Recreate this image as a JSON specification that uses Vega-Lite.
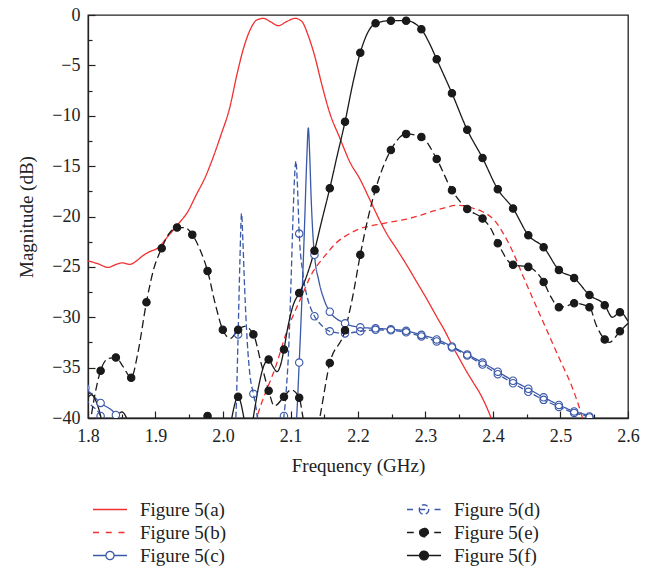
{
  "$schema": "https://vega.github.io/schema/vega-lite/v6.json",
  "width": 540,
  "height": 403,
  "autosize": {"type": "none"},
  "padding": {"left": 88, "top": 15, "right": 33, "bottom": 152},
  "background": "white",
  "config": {
    "view": {"stroke": "#222222", "strokeWidth": 1.3},
    "font": "Liberation Serif",
    "axis": {
      "grid": false,
      "domainColor": "#222222",
      "domainWidth": 1.3,
      "tickColor": "#222222",
      "tickWidth": 1.2,
      "labelFont": "Liberation Serif",
      "labelFontSize": 18,
      "labelColor": "#222222",
      "titleFont": "Liberation Serif",
      "titleFontSize": 19,
      "titleFontWeight": "normal",
      "titleColor": "#222222"
    }
  },
  "datasets": {
    "curves": [
      {"series": "Figure 5(a)", "freq": 1.800, "mag": -24.4},
      {"series": "Figure 5(a)", "freq": 1.815, "mag": -24.7},
      {"series": "Figure 5(a)", "freq": 1.830, "mag": -25.05},
      {"series": "Figure 5(a)", "freq": 1.840, "mag": -24.8},
      {"series": "Figure 5(a)", "freq": 1.850, "mag": -24.6},
      {"series": "Figure 5(a)", "freq": 1.862, "mag": -24.75},
      {"series": "Figure 5(a)", "freq": 1.872, "mag": -24.4},
      {"series": "Figure 5(a)", "freq": 1.880, "mag": -23.95},
      {"series": "Figure 5(a)", "freq": 1.891, "mag": -23.5},
      {"series": "Figure 5(a)", "freq": 1.904, "mag": -23.1},
      {"series": "Figure 5(a)", "freq": 1.918, "mag": -22.0},
      {"series": "Figure 5(a)", "freq": 1.933, "mag": -20.8},
      {"series": "Figure 5(a)", "freq": 1.948, "mag": -19.5},
      {"series": "Figure 5(a)", "freq": 1.960, "mag": -17.9},
      {"series": "Figure 5(a)", "freq": 1.973, "mag": -16.2},
      {"series": "Figure 5(a)", "freq": 1.985, "mag": -14.2},
      {"series": "Figure 5(a)", "freq": 1.997, "mag": -11.9},
      {"series": "Figure 5(a)", "freq": 2.010, "mag": -9.2},
      {"series": "Figure 5(a)", "freq": 2.020, "mag": -6.1},
      {"series": "Figure 5(a)", "freq": 2.030, "mag": -3.4},
      {"series": "Figure 5(a)", "freq": 2.040, "mag": -1.5},
      {"series": "Figure 5(a)", "freq": 2.050, "mag": -0.5},
      {"series": "Figure 5(a)", "freq": 2.060, "mag": -0.33},
      {"series": "Figure 5(a)", "freq": 2.070, "mag": -0.66},
      {"series": "Figure 5(a)", "freq": 2.082, "mag": -1.06},
      {"series": "Figure 5(a)", "freq": 2.094, "mag": -0.66},
      {"series": "Figure 5(a)", "freq": 2.107, "mag": -0.33},
      {"series": "Figure 5(a)", "freq": 2.117, "mag": -0.66},
      {"series": "Figure 5(a)", "freq": 2.126, "mag": -2.0},
      {"series": "Figure 5(a)", "freq": 2.136, "mag": -4.1},
      {"series": "Figure 5(a)", "freq": 2.146, "mag": -6.8},
      {"series": "Figure 5(a)", "freq": 2.158, "mag": -9.7},
      {"series": "Figure 5(a)", "freq": 2.173, "mag": -12.2},
      {"series": "Figure 5(a)", "freq": 2.188, "mag": -14.6},
      {"series": "Figure 5(a)", "freq": 2.203, "mag": -16.3},
      {"series": "Figure 5(a)", "freq": 2.218, "mag": -18.4},
      {"series": "Figure 5(a)", "freq": 2.233, "mag": -20.5},
      {"series": "Figure 5(a)", "freq": 2.2425, "mag": -21.7},
      {"series": "Figure 5(a)", "freq": 2.257, "mag": -23.2},
      {"series": "Figure 5(a)", "freq": 2.272, "mag": -24.8},
      {"series": "Figure 5(a)", "freq": 2.287, "mag": -26.5},
      {"series": "Figure 5(a)", "freq": 2.302, "mag": -28.2},
      {"series": "Figure 5(a)", "freq": 2.317, "mag": -30.0},
      {"series": "Figure 5(a)", "freq": 2.329, "mag": -31.4},
      {"series": "Figure 5(a)", "freq": 2.341, "mag": -33.0},
      {"series": "Figure 5(a)", "freq": 2.351, "mag": -34.2},
      {"series": "Figure 5(a)", "freq": 2.361, "mag": -35.4},
      {"series": "Figure 5(a)", "freq": 2.371, "mag": -36.5},
      {"series": "Figure 5(a)", "freq": 2.381, "mag": -37.6},
      {"series": "Figure 5(a)", "freq": 2.396, "mag": -39.8},
      {"series": "Figure 5(a)", "freq": 2.405, "mag": -41.5},

      {"series": "Figure 5(b)", "freq": 2.040, "mag": -42.5},
      {"series": "Figure 5(b)", "freq": 2.050, "mag": -40.0},
      {"series": "Figure 5(b)", "freq": 2.0795, "mag": -34.6},
      {"series": "Figure 5(b)", "freq": 2.094, "mag": -31.5},
      {"series": "Figure 5(b)", "freq": 2.114, "mag": -28.3},
      {"series": "Figure 5(b)", "freq": 2.134, "mag": -25.4},
      {"series": "Figure 5(b)", "freq": 2.1437, "mag": -24.5},
      {"series": "Figure 5(b)", "freq": 2.156, "mag": -23.5},
      {"series": "Figure 5(b)", "freq": 2.168, "mag": -22.6},
      {"series": "Figure 5(b)", "freq": 2.180, "mag": -22.0},
      {"series": "Figure 5(b)", "freq": 2.193, "mag": -21.5},
      {"series": "Figure 5(b)", "freq": 2.203, "mag": -21.2},
      {"series": "Figure 5(b)", "freq": 2.218, "mag": -20.95},
      {"series": "Figure 5(b)", "freq": 2.233, "mag": -20.75},
      {"series": "Figure 5(b)", "freq": 2.252, "mag": -20.5},
      {"series": "Figure 5(b)", "freq": 2.272, "mag": -20.25},
      {"series": "Figure 5(b)", "freq": 2.292, "mag": -19.9},
      {"series": "Figure 5(b)", "freq": 2.312, "mag": -19.45},
      {"series": "Figure 5(b)", "freq": 2.330, "mag": -19.1},
      {"series": "Figure 5(b)", "freq": 2.346, "mag": -18.9},
      {"series": "Figure 5(b)", "freq": 2.360, "mag": -18.95},
      {"series": "Figure 5(b)", "freq": 2.371, "mag": -19.2},
      {"series": "Figure 5(b)", "freq": 2.384, "mag": -19.5},
      {"series": "Figure 5(b)", "freq": 2.396, "mag": -20.0},
      {"series": "Figure 5(b)", "freq": 2.406, "mag": -20.7},
      {"series": "Figure 5(b)", "freq": 2.415, "mag": -21.65},
      {"series": "Figure 5(b)", "freq": 2.430, "mag": -23.6},
      {"series": "Figure 5(b)", "freq": 2.4425, "mag": -25.6},
      {"series": "Figure 5(b)", "freq": 2.460, "mag": -28.3},
      {"series": "Figure 5(b)", "freq": 2.4795, "mag": -31.25},
      {"series": "Figure 5(b)", "freq": 2.499, "mag": -34.2},
      {"series": "Figure 5(b)", "freq": 2.517, "mag": -36.9},
      {"series": "Figure 5(b)", "freq": 2.529, "mag": -39.2},
      {"series": "Figure 5(b)", "freq": 2.536, "mag": -40.8},

      {"series": "Figure 5(c)", "freq": 1.7961, "mag": -37.0},
      {"series": "Figure 5(c)", "freq": 1.8187, "mag": -38.5},
      {"series": "Figure 5(c)", "freq": 1.8413, "mag": -39.7},
      {"series": "Figure 5(c)", "freq": 1.852, "mag": -41.0},
      {"series": "Figure 5(c)", "freq": 1.870, "mag": -44.0},
      {"series": "Figure 5(c)", "freq": 2.100, "mag": -44.0},
      {"series": "Figure 5(c)", "freq": 2.106, "mag": -42.0},
      {"series": "Figure 5(c)", "freq": 2.109, "mag": -40.0},
      {"series": "Figure 5(c)", "freq": 2.1129, "mag": -34.5},
      {"series": "Figure 5(c)", "freq": 2.117, "mag": -28.0},
      {"series": "Figure 5(c)", "freq": 2.121, "mag": -20.5},
      {"series": "Figure 5(c)", "freq": 2.124, "mag": -14.5},
      {"series": "Figure 5(c)", "freq": 2.1264, "mag": -11.2},
      {"series": "Figure 5(c)", "freq": 2.1285, "mag": -14.0},
      {"series": "Figure 5(c)", "freq": 2.1305, "mag": -18.0},
      {"series": "Figure 5(c)", "freq": 2.133, "mag": -21.6},
      {"series": "Figure 5(c)", "freq": 2.1355, "mag": -23.8},
      {"series": "Figure 5(c)", "freq": 2.142, "mag": -26.4},
      {"series": "Figure 5(c)", "freq": 2.150, "mag": -28.3},
      {"series": "Figure 5(c)", "freq": 2.1582, "mag": -29.45},
      {"series": "Figure 5(c)", "freq": 2.1808, "mag": -30.6},
      {"series": "Figure 5(c)", "freq": 2.2034, "mag": -31.0},
      {"series": "Figure 5(c)", "freq": 2.2260, "mag": -31.1},
      {"series": "Figure 5(c)", "freq": 2.2487, "mag": -31.2},
      {"series": "Figure 5(c)", "freq": 2.2713, "mag": -31.35},
      {"series": "Figure 5(c)", "freq": 2.2939, "mag": -31.75},
      {"series": "Figure 5(c)", "freq": 2.3166, "mag": -32.2},
      {"series": "Figure 5(c)", "freq": 2.3392, "mag": -32.9},
      {"series": "Figure 5(c)", "freq": 2.3618, "mag": -33.7},
      {"series": "Figure 5(c)", "freq": 2.3845, "mag": -34.5},
      {"series": "Figure 5(c)", "freq": 2.4071, "mag": -35.4},
      {"series": "Figure 5(c)", "freq": 2.4297, "mag": -36.3},
      {"series": "Figure 5(c)", "freq": 2.4523, "mag": -37.1},
      {"series": "Figure 5(c)", "freq": 2.4750, "mag": -37.95},
      {"series": "Figure 5(c)", "freq": 2.4976, "mag": -38.7},
      {"series": "Figure 5(c)", "freq": 2.5202, "mag": -39.35},
      {"series": "Figure 5(c)", "freq": 2.5429, "mag": -39.85},
      {"series": "Figure 5(c)", "freq": 2.552, "mag": -40.4},

      {"series": "Figure 5(d)", "freq": 1.7961, "mag": -38.0},
      {"series": "Figure 5(d)", "freq": 1.800, "mag": -38.4},
      {"series": "Figure 5(d)", "freq": 1.8187, "mag": -39.8},
      {"series": "Figure 5(d)", "freq": 1.828, "mag": -41.5},
      {"series": "Figure 5(d)", "freq": 1.840, "mag": -44.0},
      {"series": "Figure 5(d)", "freq": 2.010, "mag": -44.0},
      {"series": "Figure 5(d)", "freq": 2.016, "mag": -42.0},
      {"series": "Figure 5(d)", "freq": 2.019, "mag": -40.0},
      {"series": "Figure 5(d)", "freq": 2.0224, "mag": -31.7},
      {"series": "Figure 5(d)", "freq": 2.025, "mag": -24.5},
      {"series": "Figure 5(d)", "freq": 2.0275, "mag": -19.7},
      {"series": "Figure 5(d)", "freq": 2.0295, "mag": -22.5},
      {"series": "Figure 5(d)", "freq": 2.032, "mag": -27.0},
      {"series": "Figure 5(d)", "freq": 2.036, "mag": -32.5},
      {"series": "Figure 5(d)", "freq": 2.040, "mag": -35.8},
      {"series": "Figure 5(d)", "freq": 2.0450, "mag": -37.6},
      {"series": "Figure 5(d)", "freq": 2.049, "mag": -39.0},
      {"series": "Figure 5(d)", "freq": 2.053, "mag": -41.0},
      {"series": "Figure 5(d)", "freq": 2.060, "mag": -44.0},
      {"series": "Figure 5(d)", "freq": 2.080, "mag": -44.0},
      {"series": "Figure 5(d)", "freq": 2.086, "mag": -41.0},
      {"series": "Figure 5(d)", "freq": 2.0903, "mag": -39.8},
      {"series": "Figure 5(d)", "freq": 2.094, "mag": -37.0},
      {"series": "Figure 5(d)", "freq": 2.097, "mag": -33.6},
      {"series": "Figure 5(d)", "freq": 2.101, "mag": -26.0},
      {"series": "Figure 5(d)", "freq": 2.104, "mag": -19.5},
      {"series": "Figure 5(d)", "freq": 2.1065, "mag": -15.5},
      {"series": "Figure 5(d)", "freq": 2.108, "mag": -14.5},
      {"series": "Figure 5(d)", "freq": 2.110, "mag": -16.5},
      {"series": "Figure 5(d)", "freq": 2.1129, "mag": -21.7},
      {"series": "Figure 5(d)", "freq": 2.118, "mag": -25.5},
      {"series": "Figure 5(d)", "freq": 2.124, "mag": -27.8},
      {"series": "Figure 5(d)", "freq": 2.130, "mag": -29.1},
      {"series": "Figure 5(d)", "freq": 2.1355, "mag": -29.9},
      {"series": "Figure 5(d)", "freq": 2.146, "mag": -30.8},
      {"series": "Figure 5(d)", "freq": 2.1582, "mag": -31.4},
      {"series": "Figure 5(d)", "freq": 2.1808, "mag": -31.6},
      {"series": "Figure 5(d)", "freq": 2.2034, "mag": -31.4},
      {"series": "Figure 5(d)", "freq": 2.2260, "mag": -31.25},
      {"series": "Figure 5(d)", "freq": 2.2487, "mag": -31.3},
      {"series": "Figure 5(d)", "freq": 2.2713, "mag": -31.5},
      {"series": "Figure 5(d)", "freq": 2.2939, "mag": -31.9},
      {"series": "Figure 5(d)", "freq": 2.3166, "mag": -32.4},
      {"series": "Figure 5(d)", "freq": 2.3392, "mag": -33.0},
      {"series": "Figure 5(d)", "freq": 2.3618, "mag": -33.8},
      {"series": "Figure 5(d)", "freq": 2.3845, "mag": -34.7},
      {"series": "Figure 5(d)", "freq": 2.4071, "mag": -35.65},
      {"series": "Figure 5(d)", "freq": 2.4297, "mag": -36.55},
      {"series": "Figure 5(d)", "freq": 2.4523, "mag": -37.4},
      {"series": "Figure 5(d)", "freq": 2.4750, "mag": -38.2},
      {"series": "Figure 5(d)", "freq": 2.4976, "mag": -38.9},
      {"series": "Figure 5(d)", "freq": 2.5202, "mag": -39.5},
      {"series": "Figure 5(d)", "freq": 2.5429, "mag": -39.95},
      {"series": "Figure 5(d)", "freq": 2.550, "mag": -40.4},

      {"series": "Figure 5(e)", "freq": 1.800, "mag": -42.0},
      {"series": "Figure 5(e)", "freq": 1.808, "mag": -38.5},
      {"series": "Figure 5(e)", "freq": 1.8187, "mag": -35.3},
      {"series": "Figure 5(e)", "freq": 1.830, "mag": -34.1},
      {"series": "Figure 5(e)", "freq": 1.8413, "mag": -34.0},
      {"series": "Figure 5(e)", "freq": 1.852, "mag": -34.9},
      {"series": "Figure 5(e)", "freq": 1.8640, "mag": -36.0},
      {"series": "Figure 5(e)", "freq": 1.874, "mag": -33.5},
      {"series": "Figure 5(e)", "freq": 1.8866, "mag": -28.5},
      {"series": "Figure 5(e)", "freq": 1.897, "mag": -25.3},
      {"series": "Figure 5(e)", "freq": 1.9092, "mag": -23.15},
      {"series": "Figure 5(e)", "freq": 1.920, "mag": -21.7},
      {"series": "Figure 5(e)", "freq": 1.9319, "mag": -21.1},
      {"series": "Figure 5(e)", "freq": 1.943, "mag": -21.1},
      {"series": "Figure 5(e)", "freq": 1.9545, "mag": -21.8},
      {"series": "Figure 5(e)", "freq": 1.966, "mag": -23.3},
      {"series": "Figure 5(e)", "freq": 1.9771, "mag": -25.4},
      {"series": "Figure 5(e)", "freq": 1.989, "mag": -28.8},
      {"series": "Figure 5(e)", "freq": 1.9997, "mag": -31.25},
      {"series": "Figure 5(e)", "freq": 2.011, "mag": -32.1},
      {"series": "Figure 5(e)", "freq": 2.0224, "mag": -31.25},
      {"series": "Figure 5(e)", "freq": 2.032, "mag": -30.9},
      {"series": "Figure 5(e)", "freq": 2.0450, "mag": -31.7},
      {"series": "Figure 5(e)", "freq": 2.057, "mag": -34.7},
      {"series": "Figure 5(e)", "freq": 2.0676, "mag": -37.3},
      {"series": "Figure 5(e)", "freq": 2.076, "mag": -38.8},
      {"series": "Figure 5(e)", "freq": 2.0903, "mag": -37.9},
      {"series": "Figure 5(e)", "freq": 2.101, "mag": -37.2},
      {"series": "Figure 5(e)", "freq": 2.1129, "mag": -38.0},
      {"series": "Figure 5(e)", "freq": 2.120, "mag": -40.5},
      {"series": "Figure 5(e)", "freq": 2.130, "mag": -43.0},
      {"series": "Figure 5(e)", "freq": 2.140, "mag": -41.0},
      {"series": "Figure 5(e)", "freq": 2.1582, "mag": -34.55},
      {"series": "Figure 5(e)", "freq": 2.1808, "mag": -31.3},
      {"series": "Figure 5(e)", "freq": 2.192, "mag": -28.0},
      {"series": "Figure 5(e)", "freq": 2.2034, "mag": -23.8},
      {"series": "Figure 5(e)", "freq": 2.2147, "mag": -20.2},
      {"series": "Figure 5(e)", "freq": 2.2260, "mag": -17.3},
      {"series": "Figure 5(e)", "freq": 2.2487, "mag": -13.4},
      {"series": "Figure 5(e)", "freq": 2.2713, "mag": -11.8},
      {"series": "Figure 5(e)", "freq": 2.2939, "mag": -12.1},
      {"series": "Figure 5(e)", "freq": 2.3166, "mag": -14.3},
      {"series": "Figure 5(e)", "freq": 2.3392, "mag": -17.4},
      {"series": "Figure 5(e)", "freq": 2.3618, "mag": -19.25},
      {"series": "Figure 5(e)", "freq": 2.3845, "mag": -20.2},
      {"series": "Figure 5(e)", "freq": 2.396, "mag": -21.1},
      {"series": "Figure 5(e)", "freq": 2.4071, "mag": -22.65},
      {"series": "Figure 5(e)", "freq": 2.4297, "mag": -24.8},
      {"series": "Figure 5(e)", "freq": 2.4523, "mag": -25.0},
      {"series": "Figure 5(e)", "freq": 2.4750, "mag": -26.5},
      {"series": "Figure 5(e)", "freq": 2.486, "mag": -28.0},
      {"series": "Figure 5(e)", "freq": 2.4976, "mag": -29.0},
      {"series": "Figure 5(e)", "freq": 2.509, "mag": -28.9},
      {"series": "Figure 5(e)", "freq": 2.5202, "mag": -28.6},
      {"series": "Figure 5(e)", "freq": 2.5429, "mag": -29.0},
      {"series": "Figure 5(e)", "freq": 2.553, "mag": -30.8},
      {"series": "Figure 5(e)", "freq": 2.5655, "mag": -32.2},
      {"series": "Figure 5(e)", "freq": 2.572, "mag": -32.5},
      {"series": "Figure 5(e)", "freq": 2.5881, "mag": -31.4},
      {"series": "Figure 5(e)", "freq": 2.600, "mag": -30.6},

      {"series": "Figure 5(f)", "freq": 1.796, "mag": -38.6},
      {"series": "Figure 5(f)", "freq": 1.800, "mag": -38.0},
      {"series": "Figure 5(f)", "freq": 1.805, "mag": -37.7},
      {"series": "Figure 5(f)", "freq": 1.811, "mag": -38.2},
      {"series": "Figure 5(f)", "freq": 1.818, "mag": -39.6},
      {"series": "Figure 5(f)", "freq": 1.824, "mag": -41.5},
      {"series": "Figure 5(f)", "freq": 1.835, "mag": -42.0},
      {"series": "Figure 5(f)", "freq": 1.843, "mag": -40.0},
      {"series": "Figure 5(f)", "freq": 1.850, "mag": -39.4},
      {"series": "Figure 5(f)", "freq": 1.857, "mag": -40.0},
      {"series": "Figure 5(f)", "freq": 1.865, "mag": -42.0},
      {"series": "Figure 5(f)", "freq": 1.900, "mag": -45.0},
      {"series": "Figure 5(f)", "freq": 1.960, "mag": -45.0},
      {"series": "Figure 5(f)", "freq": 1.970, "mag": -41.5},
      {"series": "Figure 5(f)", "freq": 1.9771, "mag": -39.8},
      {"series": "Figure 5(f)", "freq": 1.984, "mag": -41.5},
      {"series": "Figure 5(f)", "freq": 2.000, "mag": -45.0},
      {"series": "Figure 5(f)", "freq": 2.008, "mag": -42.0},
      {"series": "Figure 5(f)", "freq": 2.013, "mag": -40.0},
      {"series": "Figure 5(f)", "freq": 2.0224, "mag": -37.9},
      {"series": "Figure 5(f)", "freq": 2.031, "mag": -40.0},
      {"series": "Figure 5(f)", "freq": 2.036, "mag": -42.0},
      {"series": "Figure 5(f)", "freq": 2.041, "mag": -41.5},
      {"series": "Figure 5(f)", "freq": 2.046, "mag": -39.5},
      {"series": "Figure 5(f)", "freq": 2.053, "mag": -36.8},
      {"series": "Figure 5(f)", "freq": 2.060, "mag": -34.9},
      {"series": "Figure 5(f)", "freq": 2.0676, "mag": -34.2},
      {"series": "Figure 5(f)", "freq": 2.074, "mag": -34.9},
      {"series": "Figure 5(f)", "freq": 2.080, "mag": -35.4},
      {"series": "Figure 5(f)", "freq": 2.085, "mag": -34.8},
      {"series": "Figure 5(f)", "freq": 2.0903, "mag": -33.2},
      {"series": "Figure 5(f)", "freq": 2.096, "mag": -31.0},
      {"series": "Figure 5(f)", "freq": 2.104, "mag": -28.8},
      {"series": "Figure 5(f)", "freq": 2.1129, "mag": -27.6},
      {"series": "Figure 5(f)", "freq": 2.120, "mag": -26.6},
      {"series": "Figure 5(f)", "freq": 2.127, "mag": -25.3},
      {"series": "Figure 5(f)", "freq": 2.1355, "mag": -23.4},
      {"series": "Figure 5(f)", "freq": 2.146, "mag": -20.5},
      {"series": "Figure 5(f)", "freq": 2.1582, "mag": -17.2},
      {"series": "Figure 5(f)", "freq": 2.169, "mag": -14.0},
      {"series": "Figure 5(f)", "freq": 2.1808, "mag": -10.6},
      {"series": "Figure 5(f)", "freq": 2.192, "mag": -6.9},
      {"series": "Figure 5(f)", "freq": 2.2034, "mag": -3.74},
      {"series": "Figure 5(f)", "freq": 2.214, "mag": -1.8},
      {"series": "Figure 5(f)", "freq": 2.2260, "mag": -0.83},
      {"series": "Figure 5(f)", "freq": 2.2487, "mag": -0.56},
      {"series": "Figure 5(f)", "freq": 2.2713, "mag": -0.56},
      {"series": "Figure 5(f)", "freq": 2.2939, "mag": -1.42},
      {"series": "Figure 5(f)", "freq": 2.305, "mag": -2.7},
      {"series": "Figure 5(f)", "freq": 2.3166, "mag": -4.4},
      {"series": "Figure 5(f)", "freq": 2.3392, "mag": -7.77},
      {"series": "Figure 5(f)", "freq": 2.3618, "mag": -11.4},
      {"series": "Figure 5(f)", "freq": 2.3845, "mag": -14.2},
      {"series": "Figure 5(f)", "freq": 2.4071, "mag": -17.3},
      {"series": "Figure 5(f)", "freq": 2.4297, "mag": -19.2},
      {"series": "Figure 5(f)", "freq": 2.4523, "mag": -21.85},
      {"series": "Figure 5(f)", "freq": 2.4750, "mag": -23.05},
      {"series": "Figure 5(f)", "freq": 2.4976, "mag": -25.3},
      {"series": "Figure 5(f)", "freq": 2.5202, "mag": -26.1},
      {"series": "Figure 5(f)", "freq": 2.5429, "mag": -27.8},
      {"series": "Figure 5(f)", "freq": 2.5655, "mag": -28.8},
      {"series": "Figure 5(f)", "freq": 2.577, "mag": -30.0},
      {"series": "Figure 5(f)", "freq": 2.5881, "mag": -29.5},
      {"series": "Figure 5(f)", "freq": 2.600, "mag": -30.4}
    ],
    "markers": [
      {"series": "Figure 5(c)", "freq": 1.7961, "mag": -37.0},
      {"series": "Figure 5(c)", "freq": 1.8187, "mag": -38.5},
      {"series": "Figure 5(c)", "freq": 1.8413, "mag": -39.7},
      {"series": "Figure 5(c)", "freq": 2.1129, "mag": -34.5},
      {"series": "Figure 5(c)", "freq": 2.1355, "mag": -23.8},
      {"series": "Figure 5(c)", "freq": 2.1582, "mag": -29.45},
      {"series": "Figure 5(c)", "freq": 2.1808, "mag": -30.6},
      {"series": "Figure 5(c)", "freq": 2.2034, "mag": -31.0},
      {"series": "Figure 5(c)", "freq": 2.2260, "mag": -31.1},
      {"series": "Figure 5(c)", "freq": 2.2487, "mag": -31.2},
      {"series": "Figure 5(c)", "freq": 2.2713, "mag": -31.35},
      {"series": "Figure 5(c)", "freq": 2.2939, "mag": -31.75},
      {"series": "Figure 5(c)", "freq": 2.3166, "mag": -32.2},
      {"series": "Figure 5(c)", "freq": 2.3392, "mag": -32.9},
      {"series": "Figure 5(c)", "freq": 2.3618, "mag": -33.7},
      {"series": "Figure 5(c)", "freq": 2.3845, "mag": -34.5},
      {"series": "Figure 5(c)", "freq": 2.4071, "mag": -35.4},
      {"series": "Figure 5(c)", "freq": 2.4297, "mag": -36.3},
      {"series": "Figure 5(c)", "freq": 2.4523, "mag": -37.1},
      {"series": "Figure 5(c)", "freq": 2.4750, "mag": -37.95},
      {"series": "Figure 5(c)", "freq": 2.4976, "mag": -38.7},
      {"series": "Figure 5(c)", "freq": 2.5202, "mag": -39.35},
      {"series": "Figure 5(c)", "freq": 2.5429, "mag": -39.85},

      {"series": "Figure 5(d)", "freq": 1.8187, "mag": -39.8},
      {"series": "Figure 5(d)", "freq": 2.0224, "mag": -31.7},
      {"series": "Figure 5(d)", "freq": 2.0450, "mag": -37.6},
      {"series": "Figure 5(d)", "freq": 2.0903, "mag": -39.8},
      {"series": "Figure 5(d)", "freq": 2.1129, "mag": -21.7},
      {"series": "Figure 5(d)", "freq": 2.1355, "mag": -29.9},
      {"series": "Figure 5(d)", "freq": 2.1582, "mag": -31.4},
      {"series": "Figure 5(d)", "freq": 2.1808, "mag": -31.6},
      {"series": "Figure 5(d)", "freq": 2.2034, "mag": -31.4},
      {"series": "Figure 5(d)", "freq": 2.2260, "mag": -31.25},
      {"series": "Figure 5(d)", "freq": 2.2487, "mag": -31.3},
      {"series": "Figure 5(d)", "freq": 2.2713, "mag": -31.5},
      {"series": "Figure 5(d)", "freq": 2.2939, "mag": -31.9},
      {"series": "Figure 5(d)", "freq": 2.3166, "mag": -32.4},
      {"series": "Figure 5(d)", "freq": 2.3392, "mag": -33.0},
      {"series": "Figure 5(d)", "freq": 2.3618, "mag": -33.8},
      {"series": "Figure 5(d)", "freq": 2.3845, "mag": -34.7},
      {"series": "Figure 5(d)", "freq": 2.4071, "mag": -35.65},
      {"series": "Figure 5(d)", "freq": 2.4297, "mag": -36.55},
      {"series": "Figure 5(d)", "freq": 2.4523, "mag": -37.4},
      {"series": "Figure 5(d)", "freq": 2.4750, "mag": -38.2},
      {"series": "Figure 5(d)", "freq": 2.4976, "mag": -38.9},
      {"series": "Figure 5(d)", "freq": 2.5202, "mag": -39.5},
      {"series": "Figure 5(d)", "freq": 2.5429, "mag": -39.95},

      {"series": "Figure 5(e)", "freq": 1.8187, "mag": -35.3},
      {"series": "Figure 5(e)", "freq": 1.8413, "mag": -34.0},
      {"series": "Figure 5(e)", "freq": 1.8640, "mag": -36.0},
      {"series": "Figure 5(e)", "freq": 1.8866, "mag": -28.5},
      {"series": "Figure 5(e)", "freq": 1.9092, "mag": -23.15},
      {"series": "Figure 5(e)", "freq": 1.9319, "mag": -21.1},
      {"series": "Figure 5(e)", "freq": 1.9545, "mag": -21.8},
      {"series": "Figure 5(e)", "freq": 1.9771, "mag": -25.4},
      {"series": "Figure 5(e)", "freq": 1.9997, "mag": -31.25},
      {"series": "Figure 5(e)", "freq": 2.0224, "mag": -31.25},
      {"series": "Figure 5(e)", "freq": 2.0450, "mag": -31.7},
      {"series": "Figure 5(e)", "freq": 2.0676, "mag": -37.3},
      {"series": "Figure 5(e)", "freq": 2.0903, "mag": -37.9},
      {"series": "Figure 5(e)", "freq": 2.1129, "mag": -38.0},
      {"series": "Figure 5(e)", "freq": 2.1582, "mag": -34.55},
      {"series": "Figure 5(e)", "freq": 2.1808, "mag": -31.3},
      {"series": "Figure 5(e)", "freq": 2.2034, "mag": -23.8},
      {"series": "Figure 5(e)", "freq": 2.2260, "mag": -17.3},
      {"series": "Figure 5(e)", "freq": 2.2487, "mag": -13.4},
      {"series": "Figure 5(e)", "freq": 2.2713, "mag": -11.8},
      {"series": "Figure 5(e)", "freq": 2.2939, "mag": -12.1},
      {"series": "Figure 5(e)", "freq": 2.3166, "mag": -14.3},
      {"series": "Figure 5(e)", "freq": 2.3392, "mag": -17.4},
      {"series": "Figure 5(e)", "freq": 2.3618, "mag": -19.25},
      {"series": "Figure 5(e)", "freq": 2.3845, "mag": -20.2},
      {"series": "Figure 5(e)", "freq": 2.4071, "mag": -22.65},
      {"series": "Figure 5(e)", "freq": 2.4297, "mag": -24.8},
      {"series": "Figure 5(e)", "freq": 2.4523, "mag": -25.0},
      {"series": "Figure 5(e)", "freq": 2.4750, "mag": -26.5},
      {"series": "Figure 5(e)", "freq": 2.4976, "mag": -29.0},
      {"series": "Figure 5(e)", "freq": 2.5202, "mag": -28.6},
      {"series": "Figure 5(e)", "freq": 2.5429, "mag": -29.0},
      {"series": "Figure 5(e)", "freq": 2.5655, "mag": -32.2},
      {"series": "Figure 5(e)", "freq": 2.5881, "mag": -31.4},

      {"series": "Figure 5(f)", "freq": 1.9771, "mag": -39.8},
      {"series": "Figure 5(f)", "freq": 2.0224, "mag": -37.9},
      {"series": "Figure 5(f)", "freq": 2.0676, "mag": -34.2},
      {"series": "Figure 5(f)", "freq": 2.0903, "mag": -33.2},
      {"series": "Figure 5(f)", "freq": 2.1129, "mag": -27.6},
      {"series": "Figure 5(f)", "freq": 2.1355, "mag": -23.4},
      {"series": "Figure 5(f)", "freq": 2.1582, "mag": -17.2},
      {"series": "Figure 5(f)", "freq": 2.1808, "mag": -10.6},
      {"series": "Figure 5(f)", "freq": 2.2034, "mag": -3.74},
      {"series": "Figure 5(f)", "freq": 2.2260, "mag": -0.83},
      {"series": "Figure 5(f)", "freq": 2.2487, "mag": -0.56},
      {"series": "Figure 5(f)", "freq": 2.2713, "mag": -0.56},
      {"series": "Figure 5(f)", "freq": 2.2939, "mag": -1.42},
      {"series": "Figure 5(f)", "freq": 2.3166, "mag": -4.4},
      {"series": "Figure 5(f)", "freq": 2.3392, "mag": -7.77},
      {"series": "Figure 5(f)", "freq": 2.3618, "mag": -11.4},
      {"series": "Figure 5(f)", "freq": 2.3845, "mag": -14.2},
      {"series": "Figure 5(f)", "freq": 2.4071, "mag": -17.3},
      {"series": "Figure 5(f)", "freq": 2.4297, "mag": -19.2},
      {"series": "Figure 5(f)", "freq": 2.4523, "mag": -21.85},
      {"series": "Figure 5(f)", "freq": 2.4750, "mag": -23.05},
      {"series": "Figure 5(f)", "freq": 2.4976, "mag": -25.3},
      {"series": "Figure 5(f)", "freq": 2.5202, "mag": -26.1},
      {"series": "Figure 5(f)", "freq": 2.5429, "mag": -27.8},
      {"series": "Figure 5(f)", "freq": 2.5655, "mag": -28.8},
      {"series": "Figure 5(f)", "freq": 2.5881, "mag": -29.5}
    ]
  },
  "encoding": {
    "x": {
      "field": "freq",
      "type": "quantitative",
      "title": "Frequency (GHz)",
      "scale": {"domain": [1.8, 2.6], "zero": false, "nice": false},
      "axis": {
        "values": [1.8, 1.85, 1.9, 1.95, 2.0, 2.05, 2.1, 2.15, 2.2, 2.25, 2.3, 2.35, 2.4, 2.45, 2.5, 2.55, 2.6],
        "labelExpr": "abs(datum.value * 10 - round(datum.value * 10)) < 0.01 ? format(datum.value, '.1f') : ''",
        "tickSize": {"condition": {"test": "abs(datum.value * 10 - round(datum.value * 10)) < 0.01", "value": -7}, "value": -4},
        "labelPadding": 16,
        "labelFlush": false,
        "labelOverlap": false,
        "titlePadding": 8
      }
    },
    "y": {
      "field": "mag",
      "type": "quantitative",
      "title": "Magnitude (dB)",
      "scale": {"domain": [-40, 0], "nice": false},
      "axis": {
        "values": [-40, -37.5, -35, -32.5, -30, -27.5, -25, -22.5, -20, -17.5, -15, -12.5, -10, -7.5, -5, -2.5, 0],
        "labelExpr": "abs(datum.value % 5) < 0.01 ? (datum.value == 0 ? '0' : '\u2212' + abs(datum.value)) : ''",
        "tickSize": {"condition": {"test": "abs(datum.value % 5) < 0.01", "value": -7}, "value": -4},
        "labelPadding": 15,
        "labelFlush": false,
        "labelOverlap": false,
        "titlePadding": 15
      }
    }
  },
  "layer": [
    {
      "data": {"name": "curves"},
      "mark": {"type": "line", "interpolate": "monotone", "clip": true, "strokeWidth": 1.3, "strokeCap": "butt"},
      "encoding": {
        "color": {
          "field": "series",
          "type": "nominal",
          "scale": {
            "domain": ["Figure 5(a)", "Figure 5(b)", "Figure 5(c)", "Figure 5(d)", "Figure 5(e)", "Figure 5(f)"],
            "range": ["#f03030", "#f03030", "#3a58a8", "#3a58a8", "#1a1a1a", "#1a1a1a"]
          },
          "legend": {
            "orient": "none",
            "legendX": 4,
            "legendY": 483,
            "columns": 2,
            "title": null,
            "padding": 0,
            "clipHeight": 23,
            "symbolSize": 1156,
            "symbolStrokeWidth": 1.3,
            "labelFont": "Liberation Serif",
            "labelFontSize": 19,
            "labelColor": "#222222",
            "labelOffset": 12,
            "columnPadding": 179,
            "rowPadding": 0,
            "encode": {
              "symbols": {
                "update": {
                  "shape": {"signal": "datum.value === 'Figure 5(a)' ? 'M-1,0H1' : datum.value === 'Figure 5(b)' ? 'M-1,0H-0.5M-0.25,0H0.25M0.5,0H1' : datum.value === 'Figure 5(c)' ? 'M-1,0H-0.24M0.24,0H1M-0.24,0A0.24,0.24,0,1,0,0.24,0A0.24,0.24,0,1,0,-0.24,0Z' : datum.value === 'Figure 5(d)' ? 'M-1,0H-0.62M-0.28,0H0.28M0.62,0H1M-0.28,0A0.28,0.28,0,1,0,0.28,0A0.28,0.28,0,1,0,-0.28,0Z' : datum.value === 'Figure 5(e)' ? 'M-1,0H-0.6M0.6,0H1M-0.26,0A0.26,0.26,0,1,0,0.26,0A0.26,0.26,0,1,0,-0.26,0Z' : 'M-1,0H1M-0.26,0A0.26,0.26,0,1,0,0.26,0A0.26,0.26,0,1,0,-0.26,0Z'"},
                  "fill": {"signal": "datum.value === 'Figure 5(c)' ? 'white' : (datum.value === 'Figure 5(e)' || datum.value === 'Figure 5(f)') ? '#1a1a1a' : 'transparent'"},
                  "stroke": {"signal": "(datum.value === 'Figure 5(a)' || datum.value === 'Figure 5(b)') ? '#f03030' : (datum.value === 'Figure 5(c)' || datum.value === 'Figure 5(d)') ? '#3a58a8' : '#1a1a1a'"},
                  "strokeWidth": {"value": 1.3},
                  "opacity": {"value": 1}
                }
              }
            }
          }
        },
        "strokeDash": {
          "field": "series",
          "type": "nominal",
          "scale": {
            "domain": ["Figure 5(a)", "Figure 5(b)", "Figure 5(c)", "Figure 5(d)", "Figure 5(e)", "Figure 5(f)"],
            "range": [[1, 0], [6, 4], [1, 0], [6, 3], [8, 4], [1, 0]]
          },
          "legend": null
        }
      }
    },
    {
      "data": {"name": "markers"},
      "mark": {"type": "point", "shape": "circle", "clip": true, "size": 55, "strokeWidth": 1.1, "opacity": 1},
      "encoding": {
        "fill": {
          "field": "series",
          "type": "nominal",
          "scale": {
            "domain": ["Figure 5(c)", "Figure 5(d)", "Figure 5(e)", "Figure 5(f)"],
            "range": ["white", "transparent", "#1a1a1a", "#1a1a1a"]
          },
          "legend": null
        },
        "stroke": {
          "field": "series",
          "type": "nominal",
          "scale": {
            "domain": ["Figure 5(c)", "Figure 5(d)", "Figure 5(e)", "Figure 5(f)"],
            "range": ["#3a58a8", "#3a58a8", "#1a1a1a", "#1a1a1a"]
          },
          "legend": null
        }
      }
    }
  ]
}
